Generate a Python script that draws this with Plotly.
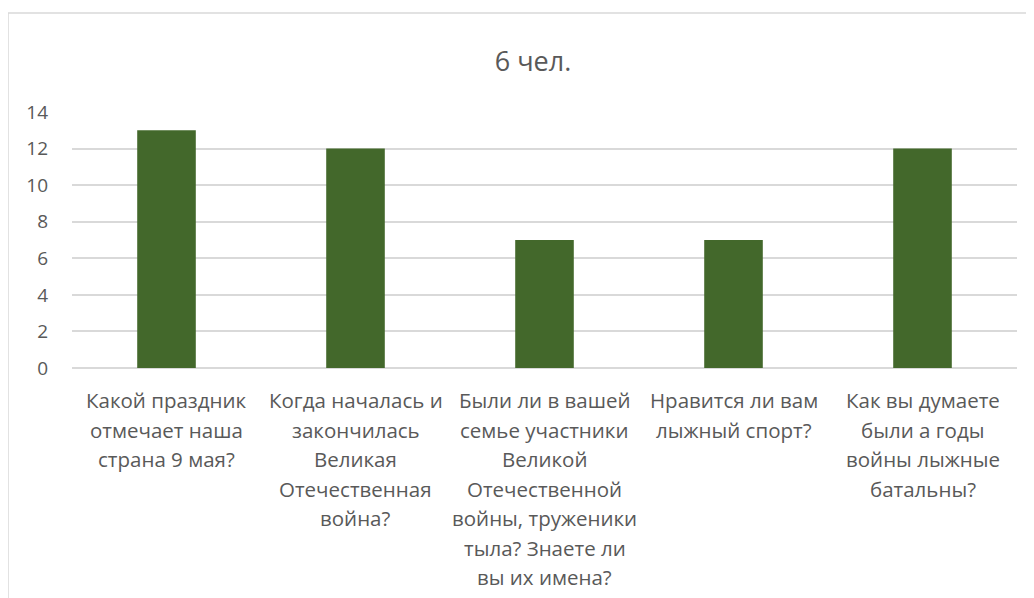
import plotly.graph_objects as go

categories = [
    "Какой праздник отмечает наша страна 9 мая?",
    "Когда началась и закончилась Великая Отечественная война?",
    "Были ли в вашей семье участники Великой Отечественной войны, труженики тыла? Знаете ли вы их имена?",
    "Нравится ли вам лыжный спорт?",
    "Как вы думаете были а годы войны лыжные батальны?",
]
label_lines = [
    ["Какой праздник", "отмечает наша", "страна 9 мая?"],
    ["Когда началась и", "закончилась", "Великая", "Отечественная", "война?"],
    ["Были ли в вашей", "семье участники", "Великой", "Отечественной", "войны, труженики", "тыла? Знаете ли", "вы их имена?"],
    ["Нравится ли вам", "лыжный спорт?"],
    ["Как вы думаете", "были а годы", "войны лыжные", "батальны?"],
]
values = [13, 12, 7, 7, 12]
title_text = "6 чел."
y_ticks = [0, 2, 4, 6, 8, 10, 12, 14]

FONT = "Open Sans"
TXT = "#595959"
GRID = "#d9d9d9"

L, T, W, H = 64, 104, 945, 256

fig = go.Figure(go.Bar(x=categories, y=values, marker=dict(color="#43682B", line=dict(width=0)),
                       width=0.31))

annotations = []
for cat, lines in zip(categories, label_lines):
    for i, ln in enumerate(lines):
        annotations.append(dict(x=cat, xref="x", y=0, yref="paper", text=ln, showarrow=False,
                                yanchor="middle", xanchor="center", yshift=-(32 + i * 29.5),
                                font=dict(family=FONT, size=20.5, color=TXT)))

fig.update_layout(
    width=1034, height=598,
    margin=dict(l=L, r=1034 - L - W, t=T, b=598 - T - H),
    paper_bgcolor="white", plot_bgcolor="white",
    title=dict(text=title_text, x=(533 - 8) / 1034, xanchor="center", y=1 - 54 / 598, yanchor="middle",
               yref="container", font=dict(family=FONT, size=27, color=TXT)),
    xaxis=dict(showticklabels=False, showgrid=False, showline=False, zeroline=False, ticks=""),
    yaxis=dict(range=[0, 14], tickvals=y_ticks, showgrid=True, gridcolor=GRID, gridwidth=1.5,
               zeroline=True, zerolinecolor=GRID, zerolinewidth=1.5, showline=False,
               ticks="", ticklabelstandoff=23,
               tickfont=dict(family=FONT, size=19, color=TXT)),
    annotations=annotations,
    shapes=[dict(type="rect", xref="paper", yref="paper",
                 x0=(0 - L) / W, x1=(1045 - L) / W,
                 y0=(T + H - 610) / H, y1=1 + (T - 5) / H,
                 line=dict(color=GRID, width=1.5), fillcolor="rgba(0,0,0,0)", layer="below")],
    showlegend=False,
)

fig.write_html("out.html")
